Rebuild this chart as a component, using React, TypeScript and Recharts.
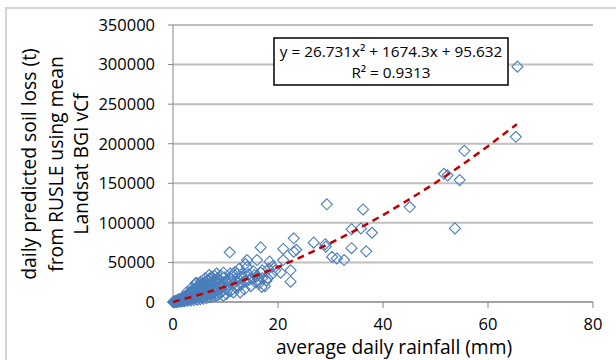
import { ScatterChart, Scatter, XAxis, YAxis, CartesianGrid } from 'recharts';

// daily rainfall (mm) vs predicted soil loss (t)
const rainfall = [
  0.05, 0.1, 0.15, 0.2, 0.25, 0.3, 0.35, 0.4, 0.45, 0.5, 0.55, 0.6, 0.65, 0.7, 0.75, 0.8, 0.85, 0.9, 0.95, 1.0,
  1.05, 1.1, 1.15, 1.2, 1.25, 1.3, 1.35, 1.4, 1.5, 1.55, 1.6, 1.7, 1.75, 1.8, 1.9, 1.95, 2.0, 2.1, 2.15, 2.2,
  2.3, 2.35, 2.4, 2.5, 2.55, 2.6, 2.7, 2.75, 2.8, 2.9, 2.95, 3.0, 3.1, 3.2, 3.25, 3.3, 3.4, 3.45, 3.5, 3.6,
  3.7, 3.8, 3.9, 4.0, 4.1, 4.2, 4.3, 4.4, 4.5, 4.6, 4.7, 4.8, 4.9, 5.0, 5.1, 5.2, 5.4, 5.5, 5.6, 5.8,
  5.9, 6.0, 6.2, 6.3, 6.4, 6.6, 6.7, 6.8, 7.0, 7.2, 7.3, 7.5, 7.6, 7.8, 8.0, 8.2, 8.4, 8.6, 8.8, 9.0,
  9.3, 9.5, 9.8, 10.0, 10.2, 10.5, 10.8, 11.0, 11.3, 11.6, 12.0, 12.2, 12.5, 12.8, 13.0, 13.3, 13.6, 14.0, 14.1, 14.4,
  14.8, 15.0, 15.3, 15.7, 16.0, 16.3, 16.7, 17.0, 17.5, 17.8, 18.2, 18.8, 19.5, 13.8, 12.6, 8.5, 9.2, 10.9, 4.3, 7.3,
  8.6, 11.8, 10.8, 16.7, 23.0, 29.3, 21.0, 23.0, 23.5, 26.8, 29.0, 29.1, 30.3, 31.2, 32.6, 34.0, 34.0, 14.1, 16.0, 18.4,
  21.0, 22.4, 22.4, 20.5, 16.9, 36.2, 37.9, 35.8, 36.8, 45.1, 51.6, 52.3, 53.7, 54.6, 55.5, 65.3, 65.6,
  0.3, 0.6, 0.9, 1.2, 1.4, 1.6, 1.8, 2.0, 2.2, 2.4, 2.6, 2.8, 3.0, 3.2, 3.4, 3.6, 3.8, 4.0, 4.2, 4.4,
  4.6, 4.8, 5.0, 5.2, 5.4, 5.6, 5.8, 6.0, 6.2, 6.4, 6.6, 6.8, 7.0, 7.2, 7.4, 7.6, 7.8, 8.0, 8.2, 8.4,
  8.8, 9.0, 9.4, 9.6, 10.0, 10.4, 11.0, 11.5, 12.0, 12.4, 13.0, 13.5, 14.5, 15.5, 16.5, 17.0, 18.0, 19.0, 5.3, 6.1,
  4.5, 3.6, 2.7, 7.9, 6.9, 8.3, 9.6,
];
const soilLoss = [
  30, 120, 60, 300, 150, 520, 260, 700, 380, 1000, 480, 1300, 700, 1600, 900, 1900, 1100, 2300, 1300, 2700,
  1500, 800, 3200, 1900, 1000, 3600, 2200, 1200, 4200, 2600, 1400, 4800, 3000, 1700, 5600, 3400, 2000, 6300, 3900, 2300,
  7100, 4400, 2600, 8000, 5000, 2800, 9000, 5600, 3100, 10000, 6200, 3400, 11200, 6900, 3800, 12500, 7600, 4100, 13500, 8300,
  4500, 15000, 9000, 5000, 16500, 10000, 5500, 18000, 11000, 6000, 19500, 12000, 6500, 21000, 13000, 7000, 22500, 14000, 7600, 24000,
  15500, 8200, 25500, 17000, 9000, 27000, 18500, 9800, 29000, 20000, 10500, 31000, 22000, 12000, 26000, 16000, 24000, 9000, 28000, 19000,
  13000, 25000, 31000, 17000, 10000, 22000, 27000, 14000, 33000, 24000, 18000, 36000, 29000, 12000, 22000, 31000, 16000, 26000, 44000, 35000,
  20000, 30000, 39000, 25000, 33000, 28000, 37000, 30000, 20000, 27000, 42000, 35000, 40000, 48000, 42000, 30000, 33000, 36000, 23600, 32000,
  28000, 38000, 62800, 69000, 80500, 123400, 67000, 63600, 66000, 75000, 73000, 70000, 57000, 55000, 53000, 68000, 92000, 53000, 53000, 51000,
  53000, 40000, 25700, 37000, 19000, 117000, 87500, 93000, 64000, 120000, 162000, 160000, 93000, 154000, 191000, 208700, 297400,
  100, 250, 500, 3000, 2800, 600, 4000, 5200, 1000, 6500, 7500, 1500, 9000, 10500, 2000, 12000, 11000, 2500, 14500, 13500,
  3000, 17000, 16000, 3500, 19000, 18000, 4000, 21000, 20000, 5000, 23000, 22000, 6000, 25000, 16000, 7000, 27000, 21000, 8000, 14000,
  23000, 11000, 20000, 8000, 26000, 15000, 29000, 12000, 26000, 20000, 35000, 26000, 28000, 34000, 24000, 40000, 30000, 45000, 26000, 30000,
  24000, 18000, 13000, 33000, 34000, 36000, 37000,
];

// polynomial trendline as drawn on the chart
const trendRainfall = [0, 5, 10, 15, 20, 25, 30, 35, 40, 45, 50, 55, 60, 65.5];
const trendLoss = [100, 9100, 19500, 31200, 44200, 58600, 74400, 91400, 109800, 129600, 150600, 173000, 196900, 224500];

const xTicks = [0, 20, 40, 60, 80];
const yTicks = [0, 50000, 100000, 150000, 200000, 250000, 300000, 350000];

const points = rainfall.map((x, i) => ({ x, y: soilLoss[i] }));
const trend = trendRainfall.map((x, i) => ({ x, y: trendLoss[i] }));

const FONT = "'Open Sans', sans-serif";

function Diamond(props: any) {
  const { cx, cy } = props;
  if (cx == null || cy == null) return <g />;
  const r = 5.5;
  return (
    <path
      d={`M${cx},${cy - r}L${cx + r},${cy}L${cx},${cy + r}L${cx - r},${cy}Z`}
      fill="none"
      stroke="#4a7ebb"
      strokeWidth={1.1}
    />
  );
}

export default function App() {
  return (
    <div style={{ position: 'absolute', left: 0, top: 0, width: 616, height: 360, background: '#fff', overflow: 'hidden' }}>
      <div
        style={{
          position: 'absolute',
          left: 5,
          top: 7,
          width: 640,
          height: 400,
          borderTop: '2px solid #d4d4d4',
          borderLeft: '2px solid #d4d4d4',
        }}
      />
      <div style={{ position: 'absolute', left: 0, top: 0 }}>
        <ScatterChart
          width={616}
          height={360}
          margin={{ top: 25, right: 23, bottom: 28, left: 103 }}
          style={{ fontFamily: FONT }}
        >
          <CartesianGrid vertical={false} stroke="#bfbfbf" strokeWidth={2} />
          <XAxis
            type="number"
            dataKey="x"
            domain={[0, 80]}
            ticks={xTicks}
            height={30}
            stroke="#868686"
            tickSize={6}
            tickMargin={10}
            tick={{ fill: '#000', fontSize: 16.5, fontFamily: FONT }}
          />
          <YAxis
            type="number"
            dataKey="y"
            domain={[0, 350000]}
            ticks={yTicks}
            width={70}
            stroke="#868686"
            tickSize={5}
            tickMargin={13}
            tick={{ fill: '#000', fontSize: 16.5, fontFamily: FONT }}
          />
          <Scatter data={points} shape={<Diamond />} isAnimationActive={false} />
          <Scatter
            data={trend}
            line={{ stroke: '#c00000', strokeWidth: 2.5, strokeDasharray: '7 5' }}
            shape={() => <g />}
            isAnimationActive={false}
          />
        </ScatterChart>
      </div>
      <svg width={616} height={360} style={{ position: 'absolute', left: 0, top: 0, pointerEvents: 'none' }}>
        <g fontFamily={FONT} fontSize={19.3} fill="#000" textAnchor="middle" dominantBaseline="central">
          <text transform="translate(28,164) rotate(-90)">daily predicted soil loss (t)</text>
          <text transform="translate(55,164) rotate(-90)">from RUSLE using mean</text>
          <text transform="translate(80,164) rotate(-90)">Landsat BGI vCf</text>
        </g>
        <text x={394} y={346} fontFamily={FONT} fontSize={19.2} fill="#000" textAnchor="middle" dominantBaseline="central">
          average daily rainfall (mm)
        </text>
        <rect x={274} y={38} width={234} height={47} fill="#fff" stroke="#000" strokeWidth={1.5} />
        <g fontFamily={FONT} fontSize={15.3} fill="#000" textAnchor="middle" dominantBaseline="central">
          <text x={391} y={51}>y = 26.731x² + 1674.3x + 95.632</text>
          <text x={391} y={72}>R² = 0.9313</text>
        </g>
      </svg>
    </div>
  );
}
